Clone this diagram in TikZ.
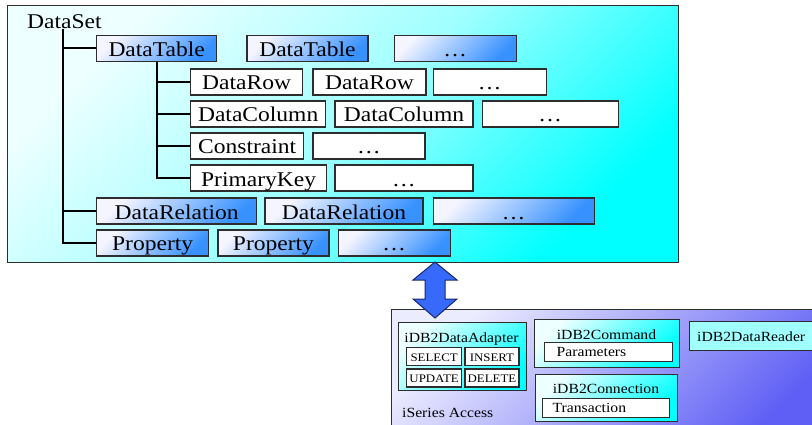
\documentclass[tikz,border=0pt]{standalone}
\usepackage{fontspec}
\setmainfont[FakeStretch=1.12]{Liberation Serif}
\usepackage{tikz}
\usetikzlibrary{positioning}

\definecolor{dsLight}{RGB}{238,255,255}
\definecolor{dsMid}{RGB}{160,255,255}
\definecolor{dsDark}{RGB}{0,255,255}
\definecolor{tblLight}{RGB}{245,245,255}
\definecolor{tblDark}{RGB}{55,145,255}
\definecolor{accLight}{RGB}{236,236,255}
\definecolor{accDark}{RGB}{95,95,245}
\definecolor{arrowBlue}{RGB}{55,105,250}
\definecolor{arrowEdge}{RGB}{25,40,110}
\definecolor{edge}{RGB}{45,45,45}

\tikzstyle{setbox}=[draw=edge,line width=1pt,inner sep=0pt,top color=dsLight,bottom color=dsDark,middle color=dsMid,shading angle=45]
\tikzstyle{member}=[draw=edge,line width=1.3pt,minimum height=26pt,inner sep=0pt,text height=16pt,text depth=0pt,font=\fontsize{21}{23}\selectfont]
\tikzstyle{coll}=[member,top color=tblLight,bottom color=tblDark,shading angle=45]
\tikzstyle{entry}=[member,fill=white]
\tikzstyle{branch}=[line width=2pt]
\tikzstyle{accbox}=[draw=edge,line width=1pt,inner sep=0pt,top color=accLight,bottom color=accDark,shading angle=45]
\tikzstyle{cls}=[draw=edge,line width=1.3pt,inner sep=0pt,top color=dsLight,bottom color=dsDark,shading angle=45]
\tikzstyle{small}=[inner sep=0pt,font=\fontsize{14}{16}\selectfont]
\tikzstyle{sub}=[small,draw=edge,line width=1.3pt,fill=white,minimum height=19pt,text height=9pt,text depth=0pt,align=left]
\tikzstyle{cmd}=[draw=edge,line width=1.3pt,fill=white,inner sep=0pt,minimum width=55pt,minimum height=18pt,text height=10pt,text depth=0pt,font=\fontsize{11.5}{13}\selectfont]
\tikzstyle{linkarrow}=[fill=arrowBlue,draw=arrowEdge,line width=1pt]

\begin{document}
\begin{tikzpicture}[x=1pt,y=-1pt]
  \useasboundingbox (0,0) rectangle (812,425);
  \clip (0,0) rectangle (812,425);

  % DataSet
  \node [setbox,minimum width=671pt,minimum height=257pt,anchor=north west] (dataset) at (7,5) {};
  \node [anchor=base west,inner sep=0pt,font=\fontsize{21}{23}\selectfont] (dslabel) at (27,28.5) {DataSet};
  \coordinate (trunk) at (63,29);

  \node [coll,minimum width=120pt,anchor=west] (tbl1) at (96,48.5) {DataTable};
  \node [coll,minimum width=121pt,right=29pt of tbl1] (tbl2) {DataTable};
  \node [coll,minimum width=122pt,right=25pt of tbl2] (tbl3) {…};

  \node [entry,minimum width=112pt,anchor=west] (row1) at (190,82) {DataRow};
  \node [entry,minimum width=113pt,right=9pt of row1] (row2) {DataRow};
  \node [entry,minimum width=113pt,right=6pt of row2] (row3) {…};

  \node [entry,minimum width=135pt,anchor=west] (col1) at (190,114) {DataColumn};
  \node [entry,minimum width=138pt,right=8pt of col1] (col2) {DataColumn};
  \node [entry,minimum width=136pt,right=8pt of col2] (col3) {…};

  \node [entry,minimum width=113pt,anchor=west] (con1) at (190,146) {Constraint};
  \node [entry,minimum width=112pt,right=8pt of con1] (con2) {…};

  \node [entry,minimum width=136pt,anchor=west] (key1) at (190,178) {PrimaryKey};
  \node [entry,minimum width=138pt,right=7pt of key1] (key2) {…};

  \node [coll,minimum width=160pt,anchor=west] (rel1) at (96,211) {DataRelation};
  \node [coll,minimum width=158pt,right=7pt of rel1] (rel2) {DataRelation};
  \node [coll,minimum width=161pt,right=9pt of rel2] (rel3) {…};

  \node [coll,minimum width=112pt,anchor=west] (prop1) at (96,243) {Property};
  \node [coll,minimum width=111pt,right=8pt of prop1] (prop2) {Property};
  \node [coll,minimum width=112pt,right=8pt of prop2] (prop3) {…};

  \draw [branch] (trunk) |- (tbl1.west);
  \draw [branch] (trunk) |- (rel1.west);
  \draw [branch] (trunk) |- (prop1.west);
  \draw [branch] (tbl1.south) |- (row1.west);
  \draw [branch] (tbl1.south) |- (col1.west);
  \draw [branch] (tbl1.south) |- (con1.west);
  \draw [branch] (tbl1.south) |- (key1.west);

  % iSeries Access
  \node [accbox,minimum width=440pt,minimum height=130pt,anchor=north west] (access) at (391,309) {};
  \node [small,anchor=base west] (acclabel) at (402,417) {iSeries Access};

  \node [cls,minimum width=128pt,minimum height=68pt,anchor=north west] (adapter) at (398,322) {};
  \node [small,anchor=base] (adlabel) at (461.5,342) {iDB2DataAdapter};
  \node [cmd,anchor=north west] (select) at (406,347) {SELECT};
  \node [cmd,minimum width=54pt,right=2pt of select] (insert) {INSERT};
  \node [cmd,below=2pt of select] (update) {UPDATE};
  \node [cmd,minimum width=54pt,below=2pt of insert] (delete) {DELETE};

  \node [cls,minimum width=145pt,minimum height=48pt,anchor=north west] (command) at (534,319) {};
  \node [small,anchor=base] (cmdlabel) at (606.5,339) {iDB2Command};
  \node [sub,inner xsep=12pt,text width=104pt,anchor=north west] (params) at (544,342) {Parameters};

  \node [cls,minimum width=142pt,minimum height=47pt,anchor=north west] (connection) at (535,374) {};
  \node [small,anchor=base] (connlabel) at (606,393) {iDB2Connection};
  \node [sub,inner xsep=10pt,text width=107pt,anchor=north west] (trans) at (542,398) {Transaction};

  \node [draw=edge,line width=1.3pt,fill=dsMid,minimum width=131pt,minimum height=29pt,anchor=north west] (reader) at (689,321) {};
  \node [small,anchor=base west] (readerlbl) at (697,341) {iDB2DataReader};

  % link between them
  \coordinate (link) at (435,290);
  \draw [linkarrow,shift={(link)}] (0,-28) -- (22,-10) -- (10,-10) -- (10,9) -- (22,9) -- (0,28)
    -- (-22,9) -- (-10,9) -- (-10,-10) -- (-22,-10) -- cycle;
\end{tikzpicture}
\end{document}
